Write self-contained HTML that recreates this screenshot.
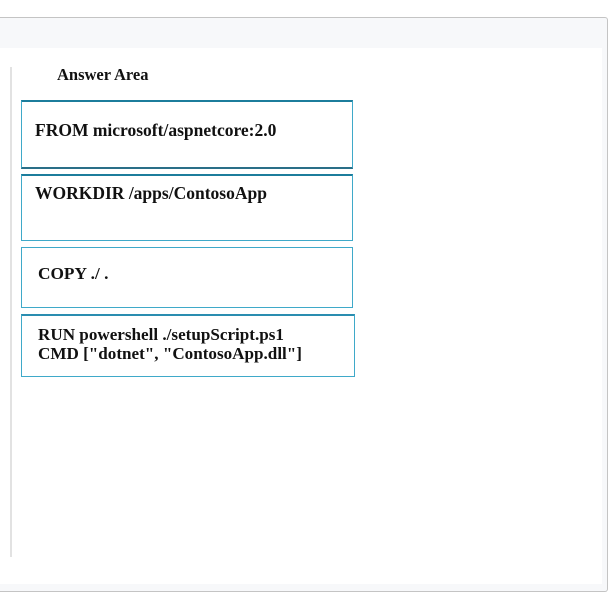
<!DOCTYPE html>
<html><head><style>
html,body{margin:0;padding:0;width:616px;height:604px;background:#fff;overflow:hidden}
body{position:relative;font-family:"Liberation Serif",serif;font-weight:bold;color:#111}
.frame{position:absolute;left:-2px;top:17px;width:609px;height:573px;border:1px solid #c4c4c4;border-left:none;background:#f7f8fa;border-radius:0 3px 3px 0}
.inner{position:absolute;left:0;top:48px;width:602px;height:536px;background:#fff}
.vl{position:absolute;left:10px;top:67px;width:2px;height:490px;background:#e2e2e2}
.box{position:absolute;left:21px;width:330px;border:1px solid #3fa9c9;box-sizing:border-box;background:#fff}
.t{position:absolute;white-space:nowrap;transform-origin:0 0}
</style></head><body>
<div class="frame"></div>
<div class="inner"></div>
<div class="vl"></div>
<div class="t" style="left:57px;top:65px;font-size:16.5px">Answer Area</div>
<div class="box" style="top:100px;height:69px;width:332px;border-top:2px solid #1c7d9c;border-bottom:2px solid #2a6f88"></div>
<div class="t" style="left:35px;top:120px;font-size:17.5px">FROM microsoft/aspnetcore:2.0</div>
<div class="box" style="top:174px;height:67px;width:332px;border-top:2px solid #1c7d9c"></div>
<div class="t" style="left:35px;top:183px;font-size:17.5px">WORKDIR /apps/ContosoApp</div>
<div class="box" style="top:247px;height:61px;width:332px"></div>
<div class="t" style="left:38px;top:264px;font-size:17.3px">COPY ./ .</div>
<div class="box" style="top:314px;height:63px;width:334px;border-top:2px solid #2a8db0"></div>
<div class="t" style="left:38px;top:325px;line-height:19px;font-size:17.1px">RUN powershell ./setupScript.ps1<br>CMD ["dotnet", "ContosoApp.dll"]</div>
</body></html>
